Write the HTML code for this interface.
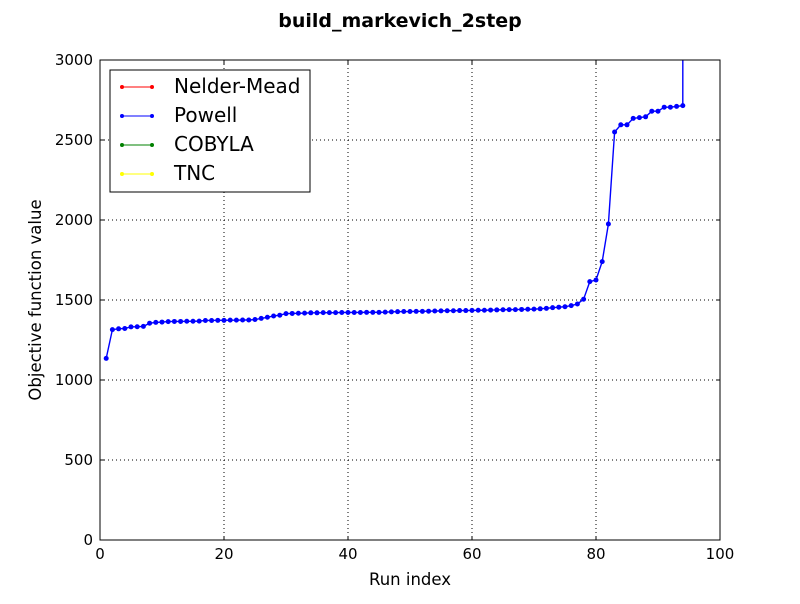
<!DOCTYPE html>
<html><head><meta charset="utf-8"><style>
body{margin:0;background:#fff;font-family:"DejaVu Sans","Liberation Sans",sans-serif}
svg text{font-family:"DejaVu Sans","Liberation Sans",sans-serif}
</style></head><body>
<svg id="c" width="800" height="600" xmlns="http://www.w3.org/2000/svg"></svg>
<script>
const xTicks=[0,20,40,60,80,100];
const yTicks=[0,500,1000,1500,2000,2500,3000];
const powell=[1135,1315,1320,1322,1332,1333,1335,1355,1360,1362,1365,1366,1366,1367,1367,1368,1372,1372,1373,1373,1374,1374,1375,1375,1378,1385,1392,1400,1405,1415,1416,1417,1418,1420,1420,1421,1421,1421,1422,1422,1422,1422,1423,1423,1423,1424,1426,1427,1428,1428,1429,1429,1430,1431,1432,1433,1433,1434,1434,1435,1436,1436,1437,1438,1439,1440,1440,1441,1442,1443,1445,1448,1452,1455,1458,1465,1475,1505,1615,1625,1740,1975,2550,2595,2595,2635,2640,2645,2680,2680,2705,2705,2710,2715,100000];
const legendNames=["Nelder-Mead","Powell","COBYLA","TNC"];
const legendColors=["#ff0000","#0000ff","#008000","#ffff00"];
const L=100,R=720,T=60,B=540;
const sx=v=>L+(v-0)/(100-0)*(R-L);
const sy=v=>B-(v-0)/(3000-0)*(B-T);
const svg=document.getElementById('c');
const NS='http://www.w3.org/2000/svg';
function mk(t,a,p){const e=document.createElementNS(NS,t);for(const k in a)e.setAttribute(k,a[k]);(p||svg).appendChild(e);return e;}
let t=mk('text',{x:400,y:27,'text-anchor':'middle','font-size':19,'font-weight':'bold'});t.textContent='build_markevich_2step';

const clip=mk('clipPath',{id:'pc'});mk('rect',{x:L,y:T,width:R-L,height:B-T},clip);
xTicks.forEach(v=>{const x=sx(v);
 if(v>0&&v<100){const g=mk('line',{x1:x,y1:T,x2:x,y2:B,stroke:'#000','stroke-dasharray':'1,3','stroke-width':1});}
 mk('line',{x1:x,y1:B,x2:x,y2:B-4,stroke:'#000'});mk('line',{x1:x,y1:T,x2:x,y2:T+4,stroke:'#000'});
 const tt=mk('text',{x:x,y:B+19,'text-anchor':'middle','font-size':15});tt.textContent=v;
 });
yTicks.forEach(v=>{const y=sy(v);
 if(v>0&&v<3000){const g=mk('line',{x1:L,y1:y,x2:R,y2:y,stroke:'#000','stroke-dasharray':'1,3','stroke-width':1});}
 mk('line',{x1:L,y1:y,x2:L+4,y2:y,stroke:'#000'});mk('line',{x1:R,y1:y,x2:R-4,y2:y,stroke:'#000'});
 const tt=mk('text',{x:L-7,y:y+5,'text-anchor':'end','font-size':15});tt.textContent=v;
 });
const g=mk('g',{'clip-path':'url(#pc)'});

mk('polyline',{points:powell.map((v,i)=>sx(i+1)+','+sy(v)).join(' '),fill:'none',stroke:'#0000ff','stroke-width':1.4},g);
powell.forEach((v,i)=>{const c=mk('circle',{cx:sx(i+1),cy:sy(v),r:2.5,fill:'#0000ff'},g);});
const fr=mk('rect',{x:L,y:T,width:R-L,height:B-T,fill:'none',stroke:'#000','stroke-width':1});

t=mk('text',{x:410,y:585,'text-anchor':'middle','font-size':16.5});t.textContent='Run index';

t=mk('text',{x:0,y:0,'text-anchor':'middle','font-size':16.5,transform:'translate(41,300) rotate(-90)'});t.textContent='Objective function value';

const lg=mk('g',{});
mk('rect',{x:110,y:70,width:200,height:122,fill:'#fff',stroke:'#000'},lg);
legendNames.forEach((n,i)=>{const y=87+i*29;
 const e=mk('g',{},lg);
 mk('line',{x1:122,y1:y,x2:152,y2:y,stroke:legendColors[i],'stroke-width':1},e);
 mk('circle',{cx:122,cy:y,r:2,fill:legendColors[i]},e);mk('circle',{cx:152,cy:y,r:2,fill:legendColors[i]},e);
 const tx=mk('text',{x:174,y:y+6,'font-size':20},e);tx.textContent=n;});
</script>
</body></html>
